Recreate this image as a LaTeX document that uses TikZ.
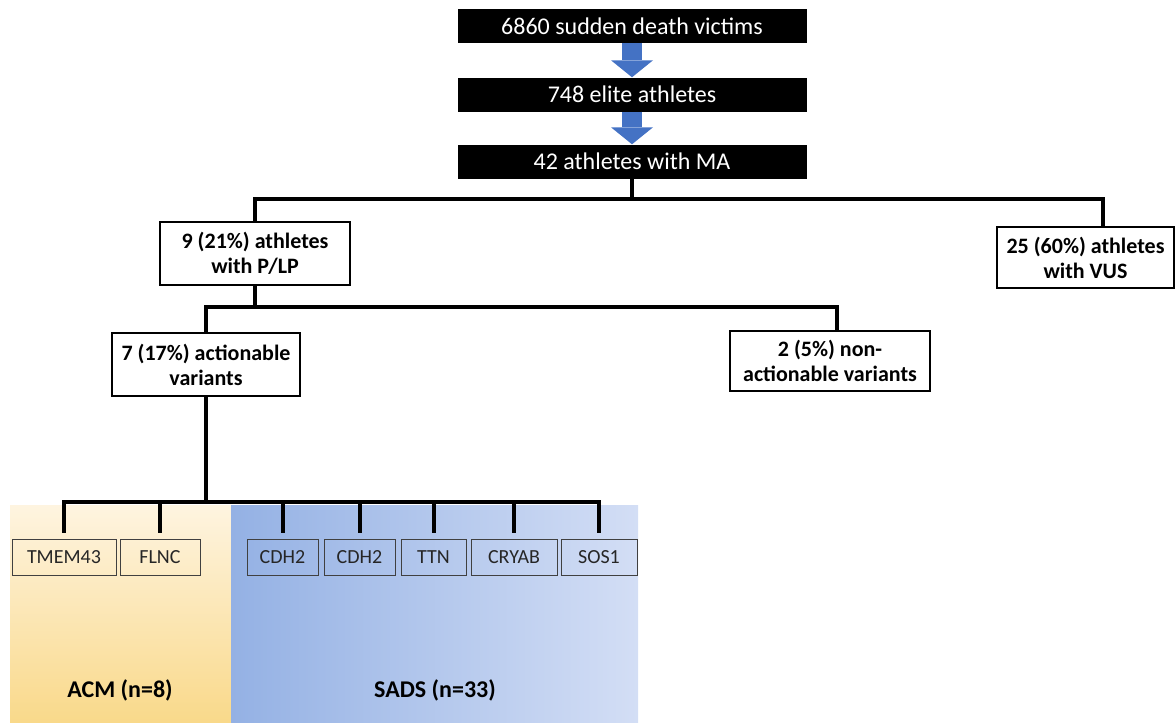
\documentclass[tikz,border=0pt]{standalone}
\usepackage{fontspec}
\setmainfont{Carlito}
\usepackage{tikz}
\usetikzlibrary{arrows.meta}
\definecolor{flowblue}{HTML}{4472C4}
\definecolor{acmlight}{HTML}{FEF4E0}
\definecolor{acmdark}{HTML}{F9D98A}
\definecolor{sadsdark}{HTML}{94B1E4}
\definecolor{sadslight}{HTML}{D3DEF5}
\definecolor{genegray}{HTML}{404040}

\begin{document}
\begin{tikzpicture}[x=1pt,y=-1pt,
  stage/.style={fill=black,text=white,minimum width=349pt,minimum height=34pt,
    inner sep=0pt,font=\fontsize{24}{28}\selectfont},
  result/.style={draw,fill=white,line width=2pt,align=center,inner sep=0pt,
    font=\bfseries\fontsize{22}{25}\selectfont},
  gene/.style={draw=genegray,line width=1pt,minimum height=36pt,inner sep=0pt,
    text=black!85,font=\fontsize{20}{22}\selectfont},
  group/.style={font=\bfseries\fontsize{24}{26}\selectfont},
  link/.style={line width=4pt},
  flow/.style={flowblue,line width=20pt,
    -{Triangle[width=42pt,length=17pt,line width=0pt]}}]
  \useasboundingbox (0,0) rectangle (1176,723);

  % cohort groups
  \shade[top color=acmlight,bottom color=acmdark] (10,505) rectangle (231,723);
  \shade[left color=sadsdark,right color=sadslight] (231,505) rectangle (638,723);
  \node[group] (acm) at (120,690) {ACM (n=8)};
  \node[group] (sads) at (435,690) {SADS (n=33)};

  % selection steps
  \node[stage] (vic) at (632,26) {6860 sudden death victims};
  \node[stage] (elite) at (632,94.5) {748 elite athletes};
  \node[stage] (ma) at (632,161.5) {42 athletes with MA};
  \draw[flow] (vic.south) -- (elite.north);
  \draw[flow] (elite.south) -- (ma.north);

  \node[result,minimum width=190pt,minimum height=63pt] (plp) at (255,253.5)
    {9 (21\%) athletes\\with P/LP};
  \node[result,minimum width=177pt,minimum height=61pt] (vus) at (1085.5,257.5)
    {25 (60\%) athletes\\with VUS};
  \node[result,minimum width=188pt,minimum height=63pt] (act) at (206,364.5)
    {7 (17\%) actionable\\variants};
  \node[result,minimum width=200pt,minimum height=60pt] (nonact) at (830,361)
    {2 (5\%) non-\\actionable variants};

  % genes
  \node[gene,minimum width=104pt] (tmem) at (64,557) {TMEM43};
  \node[gene,minimum width=80pt] (flnc) at (160,557) {FLNC};
  \node[gene,minimum width=71pt] (cdha) at (282.5,557) {CDH2};
  \node[gene,minimum width=71pt] (cdhb) at (359.5,557) {CDH2};
  \node[gene,minimum width=65pt] (ttn) at (433.5,557) {TTN};
  \node[gene,minimum width=86pt] (cryab) at (514,557) {CRYAB};
  \node[gene,minimum width=76pt] (sos) at (599,557) {SOS1};

  % tree
  \coordinate (busA) at (632,199);
  \coordinate (busB) at (255,307);
  \coordinate (busC) at (206,502);
  \draw[link] (ma.south) -- (busA);
  \draw[link] (plp.north) |- (busA) -| ([xshift=17pt]vus.north);
  \draw[link] (plp.south) -- (busB);
  \draw[link] (act.north) |- (busB) -| ([xshift=7pt]nonact.north);
  \draw[link] (act.south) -- (busC);
  \draw[link] ([yshift=6pt]tmem.north) |- (busC) -| ([yshift=6pt]sos.north);
  \foreach \g in {flnc,cdha,cdhb,ttn,cryab}
    \draw[link] (busC -| \g.north) -- ([yshift=6pt]\g.north);
\end{tikzpicture}
\end{document}
